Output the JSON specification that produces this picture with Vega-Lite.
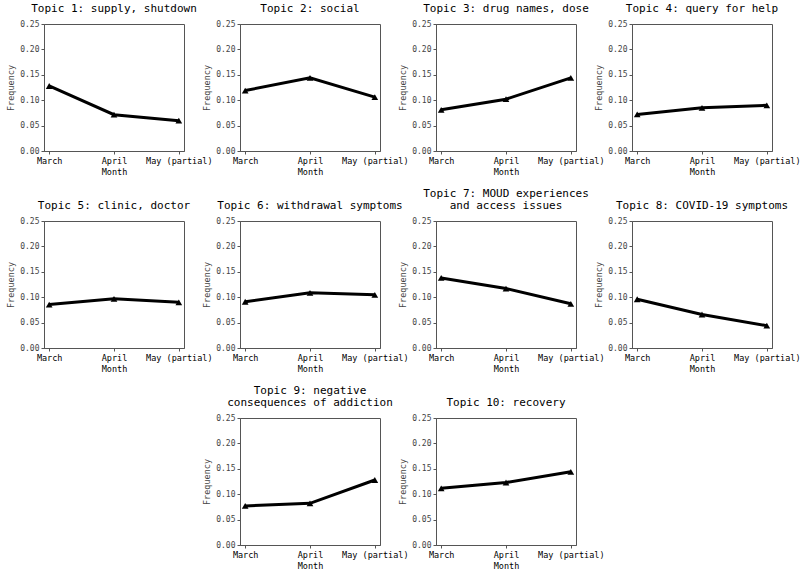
{
  "$schema": "https://vega.github.io/schema/vega-lite/v6.json",
  "background": "white",
  "padding": {"left": 6, "top": 2, "right": 5, "bottom": 5},
  "data": {"values": [
    {"topic": 1, "month": "March", "freq": 0.128},
    {"topic": 1, "month": "April", "freq": 0.0715},
    {"topic": 1, "month": "May (partial)", "freq": 0.0597},
    {"topic": 2, "month": "March", "freq": 0.119},
    {"topic": 2, "month": "April", "freq": 0.144},
    {"topic": 2, "month": "May (partial)", "freq": 0.106},
    {"topic": 3, "month": "March", "freq": 0.081},
    {"topic": 3, "month": "April", "freq": 0.102},
    {"topic": 3, "month": "May (partial)", "freq": 0.144},
    {"topic": 4, "month": "March", "freq": 0.072},
    {"topic": 4, "month": "April", "freq": 0.085},
    {"topic": 4, "month": "May (partial)", "freq": 0.090},
    {"topic": 5, "month": "March", "freq": 0.0855},
    {"topic": 5, "month": "April", "freq": 0.0967},
    {"topic": 5, "month": "May (partial)", "freq": 0.090},
    {"topic": 6, "month": "March", "freq": 0.091},
    {"topic": 6, "month": "April", "freq": 0.1086},
    {"topic": 6, "month": "May (partial)", "freq": 0.1046},
    {"topic": 7, "month": "March", "freq": 0.138},
    {"topic": 7, "month": "April", "freq": 0.117},
    {"topic": 7, "month": "May (partial)", "freq": 0.087},
    {"topic": 8, "month": "March", "freq": 0.096},
    {"topic": 8, "month": "April", "freq": 0.066},
    {"topic": 8, "month": "May (partial)", "freq": 0.044},
    {"topic": 9, "month": "March", "freq": 0.077},
    {"topic": 9, "month": "April", "freq": 0.082},
    {"topic": 9, "month": "May (partial)", "freq": 0.128},
    {"topic": 10, "month": "March", "freq": 0.1115},
    {"topic": 10, "month": "April", "freq": 0.123},
    {"topic": 10, "month": "May (partial)", "freq": 0.144}
  ]},
  "columns": 4,
  "bounds": "flush",
  "spacing": {"row": 70, "column": 56},
  "concat": [
    {"title": "Topic 1: supply, shutdown", "width": 140, "height": 127,
     "transform": [{"filter": "datum.topic == 1"}],
     "mark": {"type": "line", "color": "black", "strokeWidth": 3, "point": {"shape": "triangle-up", "size": 45, "filled": true, "color": "black", "opacity": 1}},
     "encoding": {
       "x": {"field": "month", "type": "ordinal", "sort": ["March", "April", "May (partial)"], "scale": {"type": "point", "padding": 0.08}, "axis": {"labelAngle": 0, "title": "Month"}},
       "y": {"field": "freq", "type": "quantitative", "scale": {"domain": [0, 0.25]}, "axis": {"values": [0, 0.05, 0.1, 0.15, 0.2, 0.25], "format": ".2f", "title": "Frequency"}}}},
    {"title": "Topic 2: social", "width": 140, "height": 127,
     "transform": [{"filter": "datum.topic == 2"}],
     "mark": {"type": "line", "color": "black", "strokeWidth": 3, "point": {"shape": "triangle-up", "size": 45, "filled": true, "color": "black", "opacity": 1}},
     "encoding": {
       "x": {"field": "month", "type": "ordinal", "sort": ["March", "April", "May (partial)"], "scale": {"type": "point", "padding": 0.08}, "axis": {"labelAngle": 0, "title": "Month"}},
       "y": {"field": "freq", "type": "quantitative", "scale": {"domain": [0, 0.25]}, "axis": {"values": [0, 0.05, 0.1, 0.15, 0.2, 0.25], "format": ".2f", "title": "Frequency"}}}},
    {"title": "Topic 3: drug names, dose", "width": 140, "height": 127,
     "transform": [{"filter": "datum.topic == 3"}],
     "mark": {"type": "line", "color": "black", "strokeWidth": 3, "point": {"shape": "triangle-up", "size": 45, "filled": true, "color": "black", "opacity": 1}},
     "encoding": {
       "x": {"field": "month", "type": "ordinal", "sort": ["March", "April", "May (partial)"], "scale": {"type": "point", "padding": 0.08}, "axis": {"labelAngle": 0, "title": "Month"}},
       "y": {"field": "freq", "type": "quantitative", "scale": {"domain": [0, 0.25]}, "axis": {"values": [0, 0.05, 0.1, 0.15, 0.2, 0.25], "format": ".2f", "title": "Frequency"}}}},
    {"title": "Topic 4: query for help", "width": 140, "height": 127,
     "transform": [{"filter": "datum.topic == 4"}],
     "mark": {"type": "line", "color": "black", "strokeWidth": 3, "point": {"shape": "triangle-up", "size": 45, "filled": true, "color": "black", "opacity": 1}},
     "encoding": {
       "x": {"field": "month", "type": "ordinal", "sort": ["March", "April", "May (partial)"], "scale": {"type": "point", "padding": 0.08}, "axis": {"labelAngle": 0, "title": "Month"}},
       "y": {"field": "freq", "type": "quantitative", "scale": {"domain": [0, 0.25]}, "axis": {"values": [0, 0.05, 0.1, 0.15, 0.2, 0.25], "format": ".2f", "title": "Frequency"}}}},
    {"title": "Topic 5: clinic, doctor", "width": 140, "height": 127,
     "transform": [{"filter": "datum.topic == 5"}],
     "mark": {"type": "line", "color": "black", "strokeWidth": 3, "point": {"shape": "triangle-up", "size": 45, "filled": true, "color": "black", "opacity": 1}},
     "encoding": {
       "x": {"field": "month", "type": "ordinal", "sort": ["March", "April", "May (partial)"], "scale": {"type": "point", "padding": 0.08}, "axis": {"labelAngle": 0, "title": "Month"}},
       "y": {"field": "freq", "type": "quantitative", "scale": {"domain": [0, 0.25]}, "axis": {"values": [0, 0.05, 0.1, 0.15, 0.2, 0.25], "format": ".2f", "title": "Frequency"}}}},
    {"title": "Topic 6: withdrawal symptoms", "width": 140, "height": 127,
     "transform": [{"filter": "datum.topic == 6"}],
     "mark": {"type": "line", "color": "black", "strokeWidth": 3, "point": {"shape": "triangle-up", "size": 45, "filled": true, "color": "black", "opacity": 1}},
     "encoding": {
       "x": {"field": "month", "type": "ordinal", "sort": ["March", "April", "May (partial)"], "scale": {"type": "point", "padding": 0.08}, "axis": {"labelAngle": 0, "title": "Month"}},
       "y": {"field": "freq", "type": "quantitative", "scale": {"domain": [0, 0.25]}, "axis": {"values": [0, 0.05, 0.1, 0.15, 0.2, 0.25], "format": ".2f", "title": "Frequency"}}}},
    {"title": {"text": ["Topic 7: MOUD experiences", "and access issues"]}, "width": 140, "height": 127,
     "transform": [{"filter": "datum.topic == 7"}],
     "mark": {"type": "line", "color": "black", "strokeWidth": 3, "point": {"shape": "triangle-up", "size": 45, "filled": true, "color": "black", "opacity": 1}},
     "encoding": {
       "x": {"field": "month", "type": "ordinal", "sort": ["March", "April", "May (partial)"], "scale": {"type": "point", "padding": 0.08}, "axis": {"labelAngle": 0, "title": "Month"}},
       "y": {"field": "freq", "type": "quantitative", "scale": {"domain": [0, 0.25]}, "axis": {"values": [0, 0.05, 0.1, 0.15, 0.2, 0.25], "format": ".2f", "title": "Frequency"}}}},
    {"title": "Topic 8: COVID-19 symptoms", "width": 140, "height": 127,
     "transform": [{"filter": "datum.topic == 8"}],
     "mark": {"type": "line", "color": "black", "strokeWidth": 3, "point": {"shape": "triangle-up", "size": 45, "filled": true, "color": "black", "opacity": 1}},
     "encoding": {
       "x": {"field": "month", "type": "ordinal", "sort": ["March", "April", "May (partial)"], "scale": {"type": "point", "padding": 0.08}, "axis": {"labelAngle": 0, "title": "Month"}},
       "y": {"field": "freq", "type": "quantitative", "scale": {"domain": [0, 0.25]}, "axis": {"values": [0, 0.05, 0.1, 0.15, 0.2, 0.25], "format": ".2f", "title": "Frequency"}}}},
    {"width": 140, "height": 127, "view": {"stroke": null},
     "transform": [{"filter": "datum.topic == 1"}],
     "mark": {"type": "point", "opacity": 0},
     "encoding": {
       "x": {"field": "month", "type": "ordinal", "axis": null},
       "y": {"field": "freq", "type": "quantitative", "axis": null}}},
    {"title": {"text": ["Topic 9: negative", "consequences of addiction"]}, "width": 140, "height": 127,
     "transform": [{"filter": "datum.topic == 9"}],
     "mark": {"type": "line", "color": "black", "strokeWidth": 3, "point": {"shape": "triangle-up", "size": 45, "filled": true, "color": "black", "opacity": 1}},
     "encoding": {
       "x": {"field": "month", "type": "ordinal", "sort": ["March", "April", "May (partial)"], "scale": {"type": "point", "padding": 0.08}, "axis": {"labelAngle": 0, "title": "Month"}},
       "y": {"field": "freq", "type": "quantitative", "scale": {"domain": [0, 0.25]}, "axis": {"values": [0, 0.05, 0.1, 0.15, 0.2, 0.25], "format": ".2f", "title": "Frequency"}}}},
    {"title": "Topic 10: recovery", "width": 140, "height": 127,
     "transform": [{"filter": "datum.topic == 10"}],
     "mark": {"type": "line", "color": "black", "strokeWidth": 3, "point": {"shape": "triangle-up", "size": 45, "filled": true, "color": "black", "opacity": 1}},
     "encoding": {
       "x": {"field": "month", "type": "ordinal", "sort": ["March", "April", "May (partial)"], "scale": {"type": "point", "padding": 0.08}, "axis": {"labelAngle": 0, "title": "Month"}},
       "y": {"field": "freq", "type": "quantitative", "scale": {"domain": [0, 0.25]}, "axis": {"values": [0, 0.05, 0.1, 0.15, 0.2, 0.25], "format": ".2f", "title": "Frequency"}}}}
  ],
  "config": {
    "font": "DejaVu Sans Mono",
    "view": {"stroke": "#555", "strokeWidth": 1},
    "title": {"font": "DejaVu Sans Mono", "fontSize": 11, "fontWeight": "normal", "color": "black", "offset": 6, "lineHeight": 12, "anchor": "middle"},
    "axis": {"labelFont": "DejaVu Sans Mono", "titleFont": "DejaVu Sans Mono", "labelFontSize": 8, "titleFontSize": 8.5, "titleFontWeight": "normal", "grid": false, "domainColor": "#555", "tickColor": "#555", "tickSize": 3, "labelColor": "#444", "titleColor": "#444", "labelPadding": 2},
    "axisX": {"labelFontSize": 8.5, "labelColor": "black", "titleColor": "black", "titlePadding": 3},
    "axisY": {"titlePadding": 4}
  }
}
